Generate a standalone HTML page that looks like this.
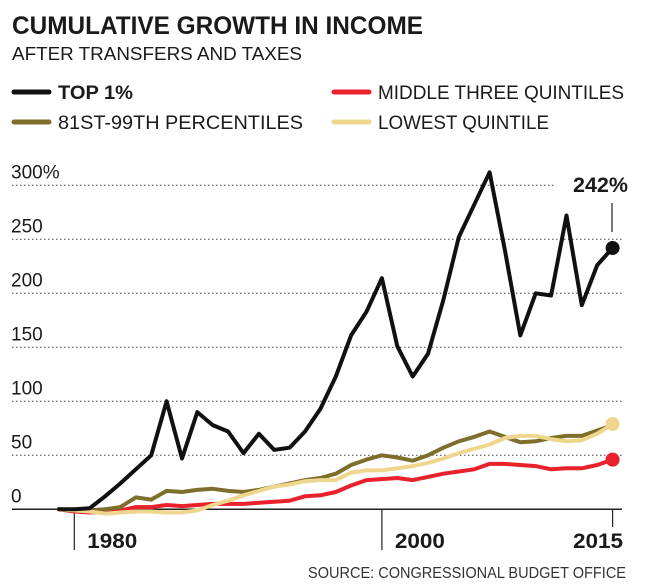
<!DOCTYPE html>
<html><head><meta charset="utf-8"><style>
html,body{margin:0;padding:0;background:#fff;}
svg{display:block;font-family:"Liberation Sans",sans-serif;}
</style></head><body>
<svg id="chart" width="650" height="586" viewBox="0 0 650 586" xmlns="http://www.w3.org/2000/svg">
<text x="12" y="34" font-size="25" font-weight="bold" fill="#1a1a1a" textLength="411" lengthAdjust="spacingAndGlyphs">CUMULATIVE GROWTH IN INCOME</text>
<text x="12" y="60" font-size="18" fill="#1a1a1a" textLength="290" lengthAdjust="spacingAndGlyphs">AFTER TRANSFERS AND TAXES</text>
<g>
<line x1="14" y1="92" x2="49" y2="92" stroke="#111" stroke-width="5" stroke-linecap="round"/>
<text x="58" y="99" font-size="19" font-weight="bold" fill="#1a1a1a" textLength="75" lengthAdjust="spacingAndGlyphs">TOP 1%</text>
<line x1="334" y1="92" x2="369" y2="92" stroke="#e8212b" stroke-width="5" stroke-linecap="round"/>
<text x="378" y="99" font-size="19" fill="#1a1a1a" textLength="246" lengthAdjust="spacingAndGlyphs">MIDDLE THREE QUINTILES</text>
<line x1="14" y1="122" x2="49" y2="122" stroke="#7d6e2b" stroke-width="5" stroke-linecap="round"/>
<text x="58" y="129" font-size="19" fill="#1a1a1a" textLength="245" lengthAdjust="spacingAndGlyphs">81ST-99TH PERCENTILES</text>
<line x1="334" y1="122" x2="369" y2="122" stroke="#efd68e" stroke-width="5" stroke-linecap="round"/>
<text x="378" y="129" font-size="19" fill="#1a1a1a" textLength="171" lengthAdjust="spacingAndGlyphs">LOWEST QUINTILE</text>
</g>
<g id="grid"></g>
<g id="axes"></g>
<g id="series"></g>
<text x="573" y="192" font-size="21" font-weight="bold" fill="#1a1a1a" textLength="55" lengthAdjust="spacingAndGlyphs">242%</text>
<line x1="612" y1="203" x2="612" y2="232" stroke="#222" stroke-width="1.2"/>
<text x="626" y="578" font-size="16" fill="#333" text-anchor="end" textLength="318" lengthAdjust="spacingAndGlyphs">SOURCE: CONGRESSIONAL BUDGET OFFICE</text>
</svg>
<script>
const years = [];
for (let y = 1979; y <= 2015; y++) years.push(y);
const top1 = [0,0,1,12,24,37,50,100,47,90,78,72,52,70,55,57,72,93,123,161,183,214,151,123,144,194,252,282,312,240,161,200,198,272,189,226,242];
const p81to99 = [0,-1,-1,0,2,11,9,17,16,18,19,17,16,18,21,24,27,29,33,41,46,50,48,45,50,57,63,67,72,67,62,63,66,68,68,73,78];
const middle3 = [0,-2,-3,-2,-1,2,2,4,3,4,5,5,5,6,7,8,12,13,16,22,27,28,29,27,30,33,35,37,42,42,41,40,37,38,38,41,46];
const lowest = [0,-1,-2,-4,-3,-2,-2,-3,-3,-1,4,8,13,17,21,23,26,27,27,34,36,36,38,40,43,47,52,56,60,66,68,68,65,63,64,70,79];
const yTicks = [0,50,100,150,200,250,300];
const yTickLabels = ["0","50","100","150","200","250","300%"];
const xTicks = [1980,2000,2015];
const xTickLabels = ["1980","2000","2015"];

const NS = "http://www.w3.org/2000/svg";
const xScale = yr => 74.3 + (yr - 1980) * 15.38;
const yScale = v => 509.3 - v * 1.08;
function mk(tag, attrs, parent) {
  const e = document.createElementNS(NS, tag);
  for (const k in attrs) e.setAttribute(k, attrs[k]);
  parent.appendChild(e);
  return e;
}
const grid = document.getElementById('grid');
const axes = document.getElementById('axes');
const series = document.getElementById('series');

yTicks.forEach((v, i) => {
  const yy = yScale(v);
  if (v !== 0) {
    const l = mk('line', {x1: 12, x2: v === 300 ? 555 : 622, y1: yy, y2: yy, stroke: '#444', 'stroke-width': 1, 'stroke-dasharray': '1.5 2.5'}, grid);
    
    
  }
  const t = mk('text', {x: 11, y: yy - 7, 'font-size': 19, fill: '#1a1a1a'}, grid);
  t.textContent = yTickLabels[i];
  
  
});

const ax = mk('line', {x1: 12, x2: 622, y1: yScale(0), y2: yScale(0), stroke: '#222', 'stroke-width': 1.5}, axes);


xTicks.forEach((yr, i) => {
  const xx = xScale(yr);
  const tk = mk('line', {x1: xx, x2: xx, y1: yScale(0), y2: i === 2 ? 527 : 550, stroke: '#222', 'stroke-width': 1.2}, axes);
  
  
  const t = mk('text', {x: i === 2 ? 623 : xx + 13, y: 548, 'font-size': 21, 'font-weight': 'bold', fill: '#1a1a1a', 'text-anchor': i === 2 ? 'end' : 'start', textLength: 50, lengthAdjust: 'spacingAndGlyphs'}, axes);
  t.textContent = xTickLabels[i];
  
  
});

function drawSeries(vals, color, name, dot) {
  const d = vals.map((v, i) => (i ? 'L' : 'M') + xScale(years[i]).toFixed(1) + ' ' + yScale(v).toFixed(1)).join(' ');
  const p = mk('path', {d: d, fill: 'none', stroke: color, 'stroke-width': 4, 'stroke-linejoin': 'round', 'stroke-linecap': 'round'}, series);
  
  
  if (dot) {
    const n = vals.length - 1;
    const c = mk('circle', {cx: xScale(years[n]), cy: yScale(vals[n]), r: 7, fill: color}, series);
    
    
  }
}
drawSeries(middle3, '#e8212b', 'middle-three-quintiles', true);
drawSeries(p81to99, '#7d6e2b', '81st-99th-percentiles', false);
drawSeries(lowest, '#efd68e', 'lowest-quintile', true);
drawSeries(top1, '#111', 'top-1-percent', true);
</script>
</body></html>
